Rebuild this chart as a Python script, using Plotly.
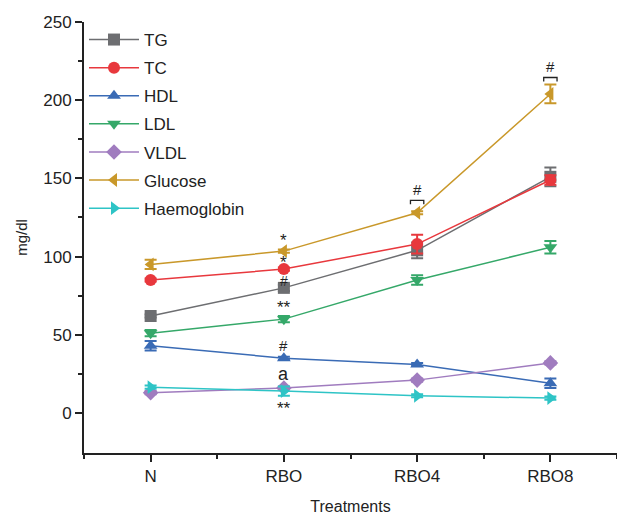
import plotly.graph_objects as go

categories = ["N", "RBO", "RBO4", "RBO8"]
series_names = ["TG", "TC", "HDL", "LDL", "VLDL", "Glucose", "Haemoglobin"]
tg = [62, 80, 104, 151]
tc = [85, 92, 108, 149]
hdl = [43, 35, 31, 19]
ldl = [51, 60, 85, 106]
vldl = [13, 16, 21, 32]
glucose = [95, 103.5, 128, 204]
haemoglobin = [16.5, 14, 11, 9.5]

tg_err = [1, 2, 5, 6]
tc_err = [1, 1, 6, 3]
hdl_err = [3, 1, 1, 3]
ldl_err = [2, 2, 3, 4]
vldl_err = [1, 1, 1, 1]
glucose_err = [3, 1, 1, 6]
haemoglobin_err = [1, 3, 1, 1]

colors = ["#6d6e71", "#e8383d", "#3a6bb5", "#35a869", "#a07cbf", "#c9982a", "#2ec4c6"]
symbols = ["square", "circle", "triangle-up", "triangle-down", "diamond", "triangle-left", "triangle-right"]

values = [tg, tc, hdl, ldl, vldl, glucose, haemoglobin]
errors = [tg_err, tc_err, hdl_err, ldl_err, vldl_err, glucose_err, haemoglobin_err]

xpos = [1, 2, 3, 4]

fig = go.Figure()
for name, vals, errs, col, sym in zip(series_names, values, errors, colors, symbols):
    fig.add_trace(go.Scatter(
        x=xpos, y=vals, name=name, mode="lines+markers", legendgroup=name,
        line=dict(color=col, width=1.5),
        marker=dict(color=col, symbol=sym, size=12),
        error_y=dict(type="data", array=errs, color=col, thickness=2, width=6),
    ))

# significance labels: (category index, series, text, offset in data units, font size)
sig_labels = [
    (1, glucose, "*", 6.8, 17),
    (1, tc, "*", 4.0, 17),
    (1, tg, "#", 4.2, 14),
    (1, ldl, "**", 7.3, 17),
    (1, hdl, "#", 8, 15),
    (1, vldl, "a", 9, 18),
    (1, haemoglobin, "**", -11.3, 17),
]
for idx, series, txt, off, fs in sig_labels:
    fig.add_annotation(x=xpos[idx], y=series[idx] + off, text=txt, showarrow=False,
                       font=dict(family="Liberation Sans, Arial", size=fs, color="#222"),
                       xref="x", yref="y")

bracket_labels = [(2, glucose, 8), (3, glucose, 10.5)]
for idx, series, off in bracket_labels:
    yb = series[idx] + off
    x0 = xpos[idx] - 0.05
    x1 = xpos[idx] + 0.05
    fig.add_shape(type="path", path=f"M {x0} {yb-2.5} L {x0} {yb} L {x1} {yb} L {x1} {yb-2.5}",
                  xref="x", yref="y", line=dict(color="#222", width=1.3))
    fig.add_annotation(x=xpos[idx], y=yb + 0.3, text="#", showarrow=False, yanchor="bottom",
                       font=dict(family="Liberation Sans, Arial", size=15, color="#222"),
                       xref="x", yref="y")

fig.update_layout(
    width=617, height=515,
    margin=dict(l=84, r=0, t=22, b=62),
    paper_bgcolor="white", plot_bgcolor="white",
    font=dict(family="Liberation Sans, Arial", size=17, color="#222"),
    showlegend=True,
    legend=dict(x=0.0, y=1.0, xanchor="left", yanchor="top", bgcolor="rgba(0,0,0,0)",
                font=dict(size=17), itemwidth=50, tracegroupgap=3),
    xaxis=dict(
        range=[0.5, 4.5], tickmode="array", tickvals=xpos, ticktext=categories,
        showline=True, linecolor="#222", linewidth=2, ticks="outside", ticklen=7,
        tickwidth=2, tickcolor="#222", showgrid=False, zeroline=False,
        minor=dict(tickmode="array", tickvals=[0.5, 1.5, 2.5, 3.5, 4.5], ticks="outside",
                   ticklen=4, tickwidth=2, tickcolor="#222"),
        title=dict(text="Treatments", font=dict(size=16), standoff=16),
        tickfont=dict(size=17),
    ),
    yaxis=dict(
        range=[-25.6, 250], tickmode="array", tickvals=[0, 50, 100, 150, 200, 250],
        showline=True, linecolor="#222", linewidth=2, ticks="outside", ticklen=7,
        tickwidth=2, tickcolor="#222", showgrid=False, zeroline=False,
        minor=dict(tickmode="array", tickvals=[25, 75, 125, 175, 225], ticks="outside",
                   ticklen=4, tickwidth=2, tickcolor="#222"),
        title=dict(text="mg/dl", font=dict(size=15), standoff=12),
        tickfont=dict(size=17),
    ),
)

fig.write_html("out.html")
